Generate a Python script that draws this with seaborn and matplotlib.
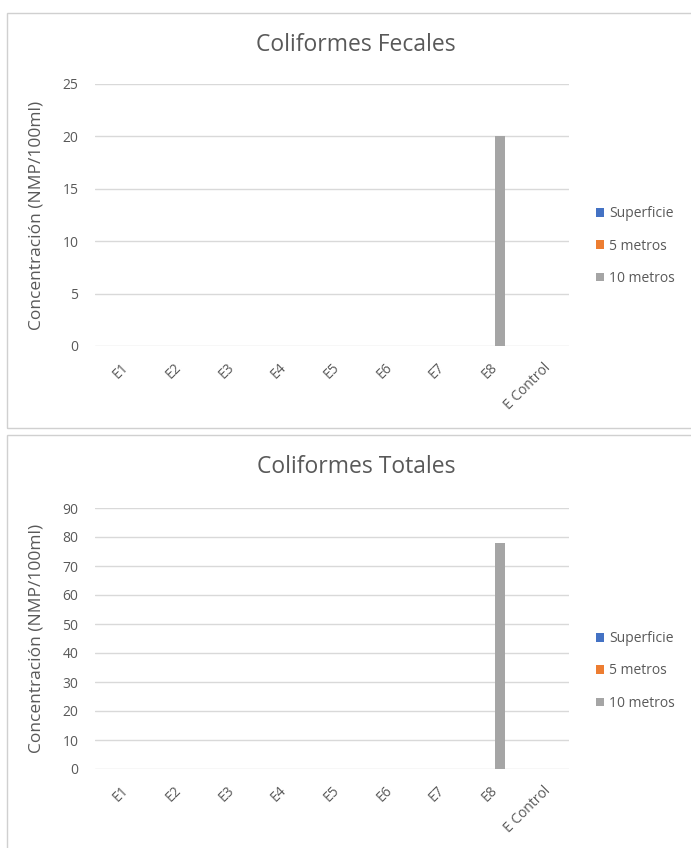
import matplotlib
matplotlib.use("Agg")
import matplotlib.pyplot as plt
from matplotlib.patches import Rectangle, Patch
import pandas as pd
import seaborn as sns

# Data
estaciones = ["E1", "E2", "E3", "E4", "E5", "E6", "E7", "E8", "E Control"]
series = ["Superficie", "5 metros", "10 metros"]
fecales_superficie = [0, 0, 0, 0, 0, 0, 0, 0, 0]
fecales_5m = [0, 0, 0, 0, 0, 0, 0, 0, 0]
fecales_10m = [0, 0, 0, 0, 0, 0, 0, 20, 0]
totales_superficie = [0, 0, 0, 0, 0, 0, 0, 0, 0]
totales_5m = [0, 0, 0, 0, 0, 0, 0, 0, 0]
totales_10m = [0, 0, 0, 0, 0, 0, 0, 78, 0]
fecales_ticks = [0, 5, 10, 15, 20, 25]
totales_ticks = [0, 10, 20, 30, 40, 50, 60, 70, 80, 90]

colores = {"Superficie": "#4472C4", "5 metros": "#ED7D31", "10 metros": "#A5A5A5"}
TXT = "#595959"
GRID = "#D9D9D9"

sns.set_theme(style="white")
plt.rcParams["font.family"] = ["Open Sans", "DejaVu Sans"]


def largo(valores_por_serie):
    filas = []
    for s, vals in zip(series, valores_por_serie):
        for e, v in zip(estaciones, vals):
            filas.append({"estacion": e, "serie": s, "valor": v})
    return pd.DataFrame(filas)


W, H = 691, 848
fig = plt.figure(figsize=(W / 100, H / 100), dpi=100)

# chart frames
fig.patches.append(Rectangle((7 / W, 1 - 428 / H), 700 / W, 415 / H,
                             transform=fig.transFigure, fill=False,
                             edgecolor="#D0D0D0", linewidth=1.0))
fig.patches.append(Rectangle((7 / W, -0.05), 700 / W, 1 - 435 / H + 0.05,
                             transform=fig.transFigure, fill=False,
                             edgecolor="#D0D0D0", linewidth=1.0))


def panel(y_top, y_bot, datos, ticks, titulo, title_y, legend_y):
    ax = fig.add_axes([95 / W, 1 - y_bot / H, (569 - 95) / W, (y_bot - y_top) / H])
    df = largo(datos)
    sns.barplot(data=df, x="estacion", y="valor", hue="serie",
                palette=colores, order=estaciones, hue_order=series,
                width=0.56, linewidth=0, legend=False, ax=ax, zorder=3)
    ax.set_ylim(ticks[0], ticks[-1])
    ax.set_yticks(ticks)
    ax.set_xlim(-0.5, len(estaciones) - 0.5)
    ax.yaxis.grid(True, color=GRID, linewidth=1.0, zorder=0)
    ax.set_axisbelow(True)
    for s in ax.spines.values():
        s.set_visible(False)
    ax.tick_params(axis="y", length=0, pad=12, labelsize=10, labelcolor=TXT)
    ax.tick_params(axis="x", length=0, pad=10, labelsize=10, labelcolor=TXT)
    plt.setp(ax.get_xticklabels(), rotation=45, ha="right", rotation_mode="anchor")
    ax.set_xlabel("")
    ax.set_ylabel("Concentración (NMP/100ml)", color=TXT, fontsize=12.5)
    ax.yaxis.set_label_coords(-0.107, 0.5)
    fig.text(356 / W, 1 - title_y / H, titulo, ha="center", va="center",
             fontsize=16.5, color=TXT)
    handles = [Patch(facecolor=colores[s], edgecolor="none", label=s) for s in series]
    leg = fig.legend(handles=handles, loc="center left",
                     bbox_to_anchor=(596 / W, 1 - legend_y / H),
                     frameon=False, fontsize=10, handlelength=0.6,
                     handleheight=0.6, handletextpad=0.35, labelspacing=1.25,
                     borderpad=0, borderaxespad=0)
    for t in leg.get_texts():
        t.set_color(TXT)
    return ax


panel(84, 346, [fecales_superficie, fecales_5m, fecales_10m], fecales_ticks,
      "Coliformes Fecales", 45, 246)
panel(508, 769, [totales_superficie, totales_5m, totales_10m], totales_ticks,
      "Coliformes Totales", 467, 671)

fig.savefig("out.png", dpi=100)
